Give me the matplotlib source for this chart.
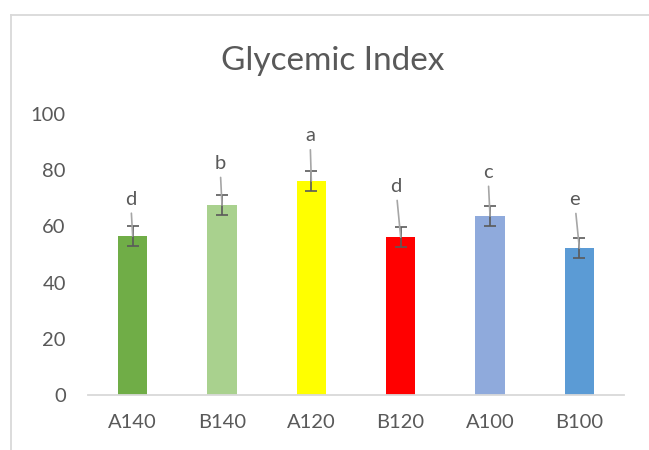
import numpy as np
import matplotlib
matplotlib.use("Agg")
import matplotlib.pyplot as plt
from matplotlib.lines import Line2D

# treatment groups and measured glycemic index (mean +/- error)
groups = ["A140", "B140", "A120", "B120", "A100", "B100"]
gi_mean = [56.6, 67.6, 76.2, 56.2, 63.7, 52.3]
gi_err = [3.5, 3.5, 3.6, 3.55, 3.5, 3.6]
letters = ["d", "b", "a", "d", "c", "e"]

bar_colors = ["#70AD47", "#A9D18E", "#FFFF00", "#FF0000", "#8FAADC", "#5B9BD5"]
# where each letter sits relative to its bar top (points)
letter_offsets = [(-1.5, 26.5), (-1.5, 30), (-1, 32.5), (-3.5, 36.5), (-1.5, 31.5), (-3.5, 35)]

text_col = "#595959"
plt.rcParams["font.family"] = ["Lato", "DejaVu Sans"]

fig = plt.figure(figsize=(6.49, 4.5), dpi=100)
ax = fig.add_axes([88 / 649, 1 - 395 / 450, (624 - 88) / 649, (395 - 114) / 450])

x = np.arange(len(groups))
ax.bar(x, gi_mean, width=0.33, color=bar_colors, zorder=2)
ax.errorbar(x, gi_mean, yerr=gi_err, fmt="none", ecolor="#5a5a5a",
            elinewidth=1.2, capsize=4.6, capthick=1.2, zorder=4)

for i in range(len(groups)):
    ax.annotate(letters[i], xy=(x[i], gi_mean[i]), xytext=letter_offsets[i],
                textcoords="offset points", ha="center", va="center",
                fontsize=14.5, color=text_col, zorder=5,
                arrowprops=dict(arrowstyle="-", color="#a6a6a6", lw=1.2,
                                shrinkA=2, shrinkB=0))

ax.set_xlim(-0.5, len(groups) - 0.5)
ax.set_ylim(0, 100)
ax.set_yticks(range(0, 101, 20))
ax.set_xticks(x)
ax.set_xticklabels(groups)
ax.tick_params(axis="both", length=0, labelsize=14.5, labelcolor=text_col)
ax.tick_params(axis="y", pad=16)
ax.tick_params(axis="x", pad=14)

for side in ["left", "right", "top"]:
    ax.spines[side].set_visible(False)
ax.spines["bottom"].set_color("#d9d9d9")
ax.spines["bottom"].set_linewidth(1.3)

fig.text(333 / 649, 1 - 61 / 450, "Glycemic Index", ha="center", va="center",
         fontsize=24, color=text_col)

# chart frame (only the left and top edges fall inside the image)
fig.add_artist(Line2D([11 / 649, 11 / 649], [0, 1 - 14.5 / 450],
                      transform=fig.transFigure, color="#d9d9d9", lw=1.3))
fig.add_artist(Line2D([11 / 649, 1], [1 - 14.5 / 450, 1 - 14.5 / 450],
                      transform=fig.transFigure, color="#d9d9d9", lw=1.3))

fig.savefig("out.png", dpi=100)
